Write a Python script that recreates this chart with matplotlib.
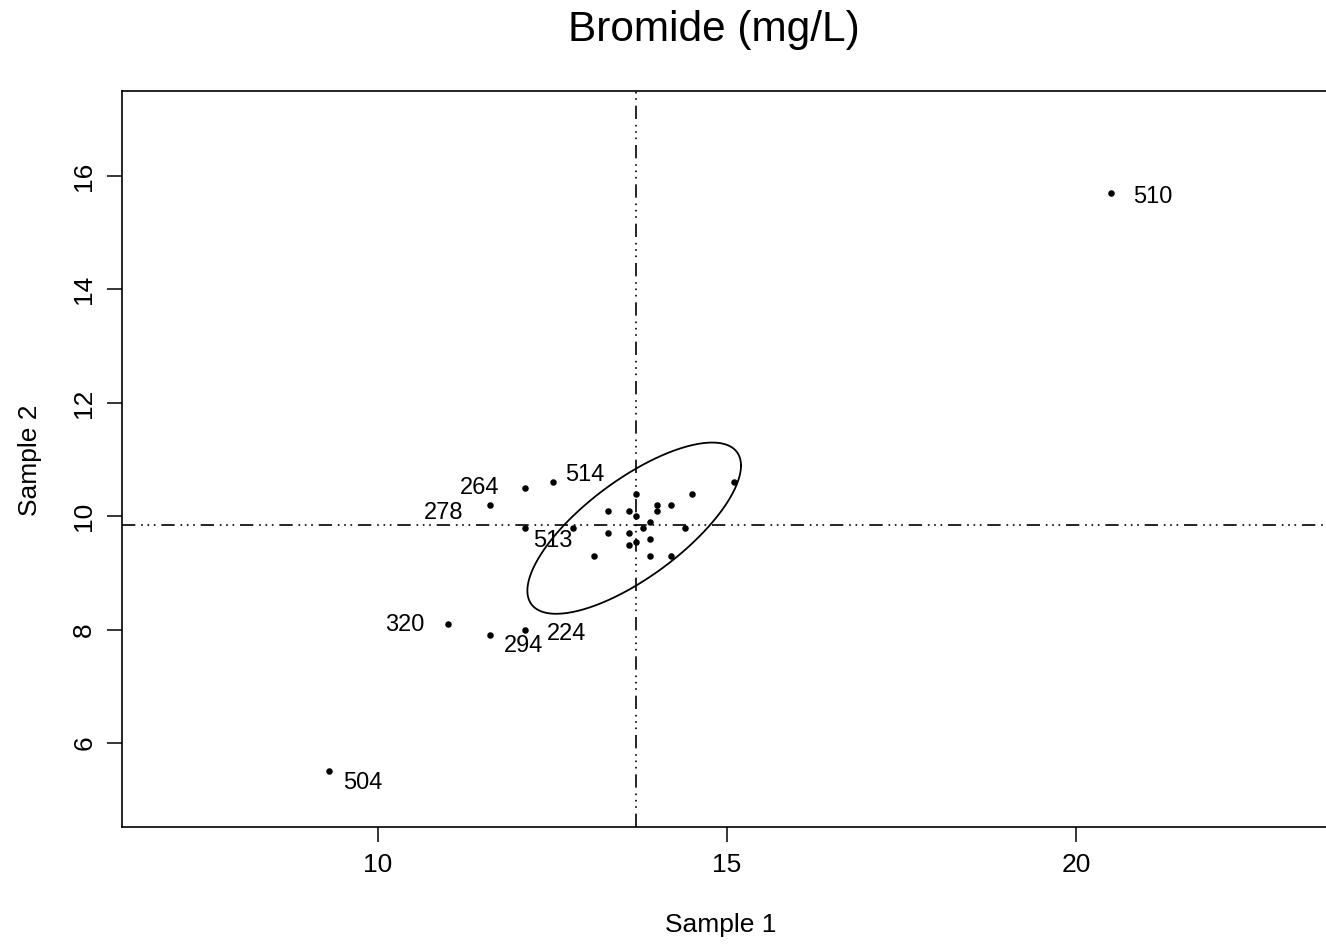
import numpy as np
import matplotlib
matplotlib.use("Agg")
import matplotlib.pyplot as plt

plt.rcParams["font.family"] = ["Liberation Sans", "DejaVu Sans"]

# sample pairs (Sample 1, Sample 2)
sample1 = [20.5, 9.3, 12.1, 12.5, 11.6, 12.1, 11.0, 11.6, 12.1,
           12.8, 13.1, 13.3, 13.3, 13.6, 13.6, 13.6, 13.7, 13.7, 13.7,
           13.8, 13.9, 13.9, 13.9, 14.0, 14.0, 14.2, 14.2, 14.4, 14.5, 15.1]
sample2 = [15.7, 5.5, 10.5, 10.6, 10.2, 9.8, 8.1, 7.9, 8.0,
           9.8, 9.3, 10.1, 9.7, 10.1, 9.7, 9.5, 10.4, 10.0, 9.55,
           9.8, 9.9, 9.6, 9.3, 10.2, 10.1, 10.2, 9.3, 9.8, 10.4, 10.6]

# labelled outliers: id, index into the arrays, offset (points), alignment
label_ids = ["510", "504", "264", "514", "278", "513", "320", "294", "224"]
label_idx = [0, 1, 2, 3, 4, 5, 6, 7, 8]
label_off = [(16, -3), (10, -8), (-18, 0), (9, 5), (-19, -6),
             (6, -10), (-17, -1), (10, -8), (16, -3)]
label_ha = ["left", "left", "right", "left", "right",
            "left", "right", "left", "left"]

# reference lines and tolerance ellipse
center_x, center_y = 13.7, 9.85
ell_cx, ell_cy = 13.67, 9.79
ell_sx, ell_sy, ell_rho = 1.53, 1.51, 0.73

fig = plt.figure(figsize=(13.26, 9.44), dpi=100)
ax = fig.add_axes([122 / 1326, 1 - 827 / 944, 1.01 - 122 / 1326, (827 - 91) / 944])

ax.scatter(sample1, sample2, s=22, color="black", zorder=3, linewidths=0)

for lab, i, off, ha in zip(label_ids, label_idx, label_off, label_ha):
    ax.annotate(lab, (sample1[i], sample2[i]), xytext=off,
                textcoords="offset points", ha=ha, va="center", fontsize=17)

dash = (0, (8, 3.5, 1, 2.8, 1, 2.8, 1, 3.5))
ax.axvline(center_x, color="black", lw=1.2, linestyle=dash, zorder=1)
ax.axhline(center_y, color="black", lw=1.2, linestyle=dash, zorder=1)

t = np.linspace(0, 2 * np.pi, 300)
ex = ell_cx + ell_sx * np.cos(t)
ey = ell_cy + ell_sy * (ell_rho * np.cos(t) + np.sqrt(1 - ell_rho ** 2) * np.sin(t))
ax.plot(ex, ey, color="black", lw=1.3, zorder=2)

ax.set_xlim(6.333, 23.77)
ax.set_ylim(4.52, 17.50)
ax.set_xticks([10, 15, 20])
ax.set_yticks([6, 8, 10, 12, 14, 16])
ax.tick_params(axis="both", length=10.5, width=1.1, labelsize=19, pad=8, color="black")
for lab in ax.get_yticklabels():
    lab.set_rotation(90)
    lab.set_va("center")
for sp in ax.spines.values():
    sp.set_linewidth(1.2)
ax.spines["right"].set_visible(False)

fig.text(714 / 1326, 1 - 30 / 944, "Bromide (mg/L)", ha="center", va="center", fontsize=30.5)
fig.text(721 / 1326, 1 - 925 / 944, "Sample 1", ha="center", va="center", fontsize=19)
fig.text(30 / 1326, 1 - 460 / 944, "Sample 2", ha="center", va="center", fontsize=19, rotation=90)

fig.savefig("out.png", dpi=100)
